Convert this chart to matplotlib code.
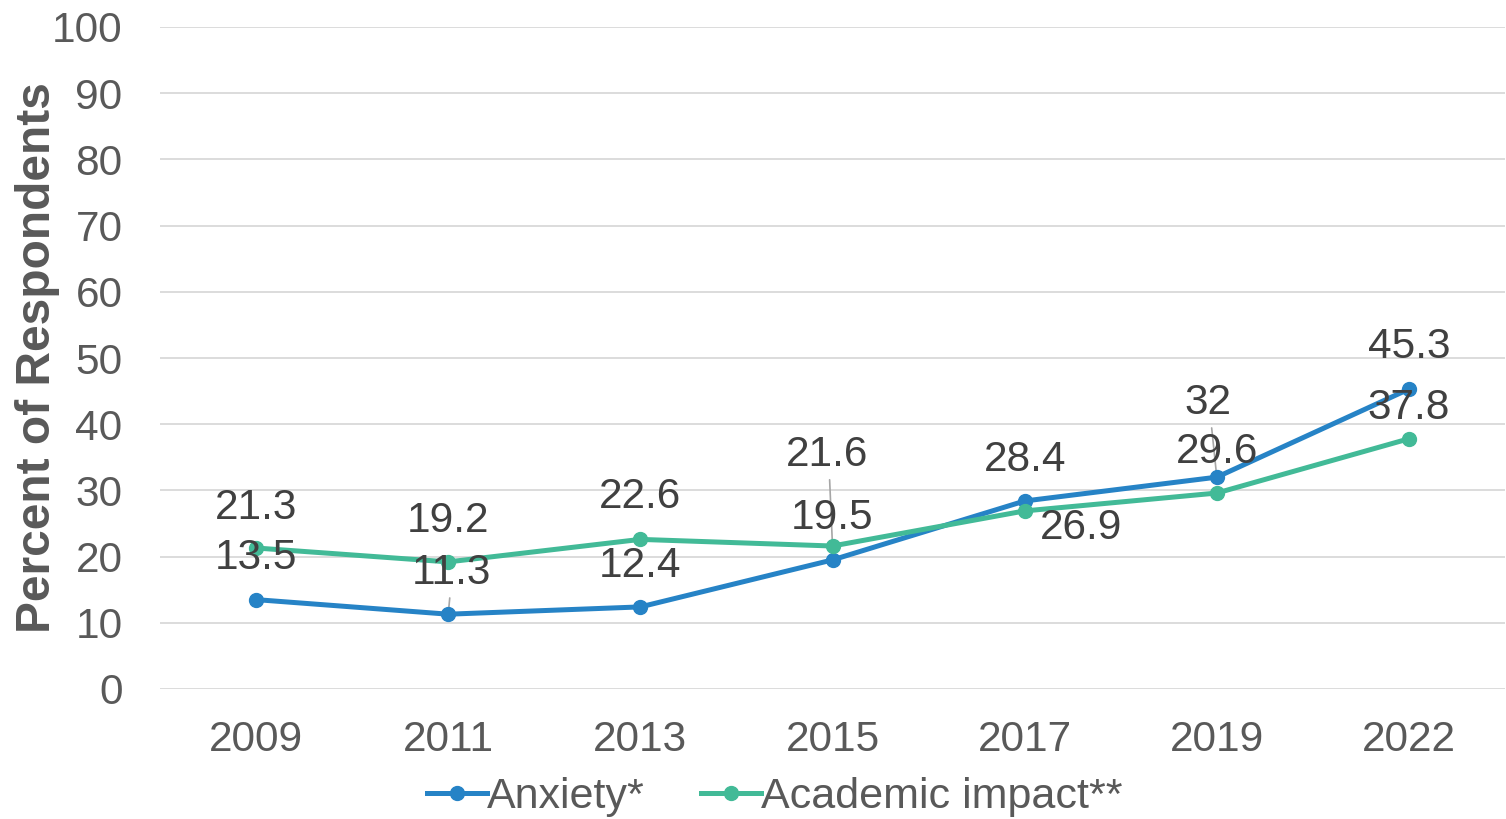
import matplotlib
matplotlib.use("Agg")
import matplotlib.pyplot as plt

years = ["2009", "2011", "2013", "2015", "2017", "2019", "2022"]
anxiety = [13.5, 11.3, 12.4, 19.5, 28.4, 32, 45.3]
academic = [21.3, 19.2, 22.6, 21.6, 26.9, 29.6, 37.8]
anx_labels = ["13.5", "11.3", "12.4", "19.5", "28.4", "32", "45.3"]
acad_labels = ["21.3", "19.2", "22.6", "21.6", "26.9", "29.6", "37.8"]

# label offsets in pixels (dx, dy) from the point, dy positive = up
anx_off = [(0, 42), (3, 41), (0, 41), (0, 42), (0, 41), (-9, 74), (0, 42)]
acad_off = [(0, 40), (0, 41), (0, 42), (-5, 91), (56, -17), (0, 41), (0, 31)]
anx_leader = [False, True, False, False, False, True, False]
acad_leader = [False, False, False, True, False, False, False]

plt.rcParams['font.family'] = ['Liberation Sans', 'DejaVu Sans']

BLUE = "#2683C6"
GREEN = "#42BA97"
TXT = "#595959"
LBL = "#404040"
FS = 30.5

fig = plt.figure(figsize=(15.06, 8.19), dpi=100)
ax = fig.add_axes([160/1506, 1-689/819, 1345/1506, (689-27)/819])

x = list(range(len(years)))
ax.plot(x, anxiety, color=BLUE, lw=3.6, marker='o', ms=10, label="Anxiety*", zorder=3)
ax.plot(x, academic, color=GREEN, lw=3.6, marker='o', ms=10, label="Academic impact**", zorder=3)

px = 72/100  # pixels -> points

def put_labels(vals, labels, offs, leaders):
    for i, (v, lab, (dx, dy), ld) in enumerate(zip(vals, labels, offs, leaders)):
        ax.annotate(lab, (i, v), xytext=(dx*px, dy*px), textcoords='offset points',
                    ha='center', va='center', fontsize=FS, color=LBL, zorder=4)
        if ld:
            ax.annotate("", (i, v), xytext=(dx*px*0.6, (dy-22)*px), textcoords='offset points',
                        arrowprops=dict(arrowstyle='-', color='#A6A6A6', lw=1.2), zorder=2)

put_labels(anxiety, anx_labels, anx_off, anx_leader)
put_labels(academic, acad_labels, acad_off, acad_leader)

ax.set_xlim(-0.5, len(years)-0.5)
ax.set_ylim(0, 100)
ax.set_yticks(range(0, 101, 10))
ax.set_xticks(x)
ax.set_xticklabels(years)
ax.tick_params(axis='both', length=0, labelsize=FS, labelcolor=TXT)
ax.tick_params(axis='y', pad=27)
ax.tick_params(axis='x', pad=22)
ax.grid(axis='y', color='#D9D9D9', lw=1.3)
ax.set_axisbelow(True)
for s in ax.spines.values():
    s.set_visible(False)

ax.set_ylabel("Percent of Respondents", fontsize=34.5, fontweight='bold', color=TXT)
ax.yaxis.set_label_coords(-(160-60)/1345, 0.5)

fig.legend(loc='center', bbox_to_anchor=(775/1506, 1-797/819), ncol=2, frameon=False,
           fontsize=31, labelcolor=TXT, handlelength=1.4, handletextpad=0.0,
           columnspacing=1.3, borderaxespad=0, borderpad=0)

fig.savefig("out.png", dpi=100)
